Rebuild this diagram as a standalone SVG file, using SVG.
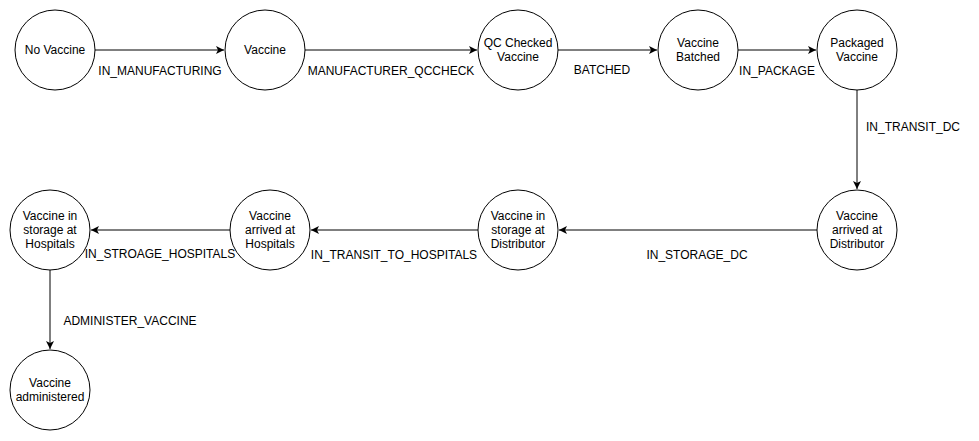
<svg xmlns="http://www.w3.org/2000/svg" width="979" height="441" viewBox="0 0 979 441">
<style>
.n{fill:#fff;stroke:#000;stroke-width:1}
.t{font-family:"Liberation Sans",Arial,sans-serif;font-size:12px;fill:#000;text-anchor:middle}
.e{stroke:#000;stroke-width:1;fill:none;marker-end:url(#a)}
</style>
<defs>
<marker id="a" markerWidth="10" markerHeight="10" refX="8" refY="4" orient="auto" markerUnits="userSpaceOnUse">
<path d="M0,0 L8,4 L0,8 L2,4 Z" fill="#000"/>
</marker>
</defs>
<rect width="979" height="441" fill="#fff"/>
<g id="edges">
<path class="e" d="M95,50 H224"/>
<path class="e" d="M305,50 H477"/>
<path class="e" d="M558,50 H657"/>
<path class="e" d="M738,50 H816"/>
<path class="e" d="M857,90 V189"/>
<path class="e" d="M817,230 H559"/>
<path class="e" d="M478,230 H311"/>
<path class="e" d="M230,230 H91"/>
<path class="e" d="M50,270 V349"/>
<text class="t" x="160" y="75">IN_MANUFACTURING</text>
<text class="t" x="391" y="75">MANUFACTURER_QCCHECK</text>
<text class="t" x="602" y="74">BATCHED</text>
<text class="t" x="777" y="75">IN_PACKAGE</text>
<text class="t" x="913" y="131">IN_TRANSIT_DC</text>
<text class="t" x="697" y="259">IN_STORAGE_DC</text>
<text class="t" x="394" y="259">IN_TRANSIT_TO_HOSPITALS</text>
<text class="t" x="160" y="258">IN_STROAGE_HOSPITALS</text>
<text class="t" x="130" y="325">ADMINISTER_VACCINE</text>
</g>
<g id="no-vaccine"><circle class="n" cx="55" cy="50" r="40"/><text class="t" x="55" y="54">No Vaccine</text></g>
<g id="vaccine"><circle class="n" cx="265" cy="50" r="40"/><text class="t" x="265" y="54">Vaccine</text></g>
<g id="qc-checked"><circle class="n" cx="518" cy="50" r="40"/><text class="t" x="518" y="47">QC Checked</text><text class="t" x="518" y="61">Vaccine</text></g>
<g id="batched"><circle class="n" cx="698" cy="50" r="40"/><text class="t" x="698" y="47">Vaccine</text><text class="t" x="698" y="61">Batched</text></g>
<g id="packaged"><circle class="n" cx="857" cy="50" r="40"/><text class="t" x="857" y="47">Packaged</text><text class="t" x="857" y="61">Vaccine</text></g>
<g id="arrived-distributor"><circle class="n" cx="857" cy="230" r="40"/><text class="t" x="857" y="220">Vaccine</text><text class="t" x="857" y="234">arrived at</text><text class="t" x="857" y="248">Distributor</text></g>
<g id="storage-distributor"><circle class="n" cx="518" cy="230" r="40"/><text class="t" x="518" y="220">Vaccine in</text><text class="t" x="518" y="234">storage at</text><text class="t" x="518" y="248">Distributor</text></g>
<g id="arrived-hospitals"><circle class="n" cx="270" cy="230" r="40"/><text class="t" x="270" y="220">Vaccine</text><text class="t" x="270" y="234">arrived at</text><text class="t" x="270" y="248">Hospitals</text></g>
<g id="storage-hospitals"><circle class="n" cx="50" cy="230" r="40"/><text class="t" x="50" y="220">Vaccine in</text><text class="t" x="50" y="234">storage at</text><text class="t" x="50" y="248">Hospitals</text></g>
<g id="administered"><circle class="n" cx="50" cy="390" r="40"/><text class="t" x="50" y="387">Vaccine</text><text class="t" x="50" y="401">administered</text></g>
</svg>
